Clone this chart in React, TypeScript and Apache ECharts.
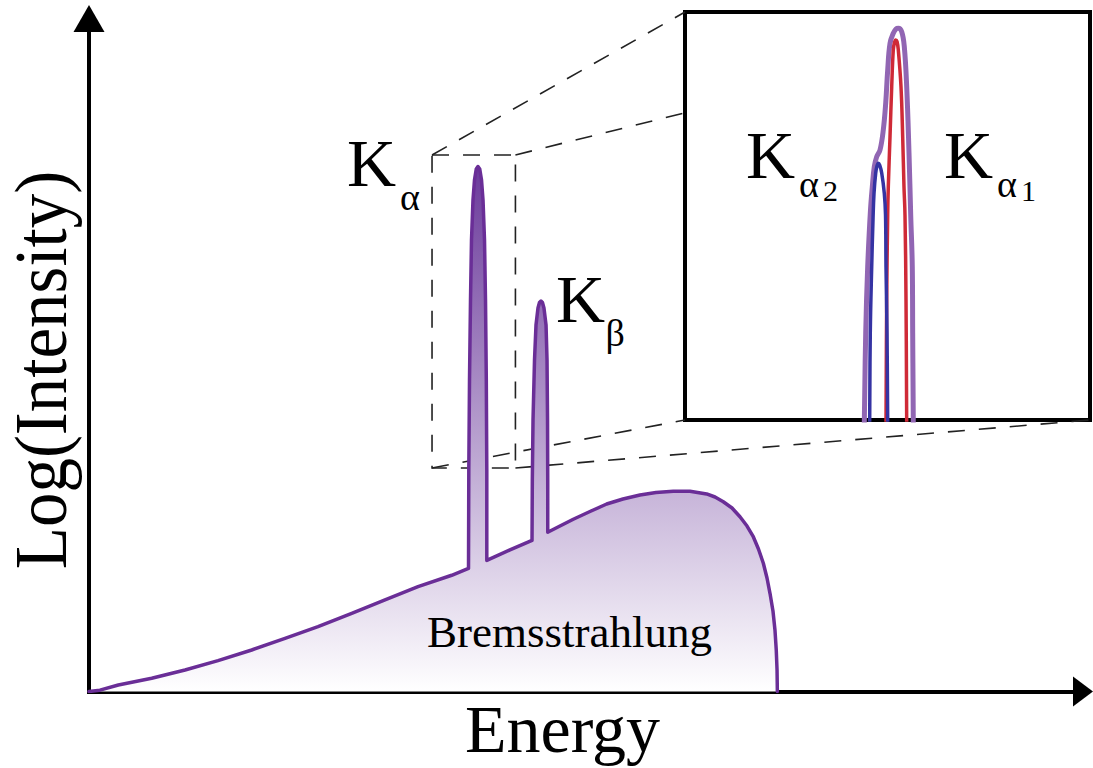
import React, { useEffect, useRef } from "react";
import * as echarts from "echarts";

// Main spectrum as [energy, log(intensity)] pairs, arbitrary units (0–100 on both axes).
const BREMS_RISE: number[][] = [
  [0, 0], [1.1, 0.2], [2.95, 0.97], [6.31, 1.96], [9.66, 3.19], [12.98, 4.58],
  [16.37, 6.17], [19.72, 7.9], [23.04, 9.63], [26.43, 11.62], [29.78, 13.6],
  [33.1, 15.57], [36.49, 17.27], [38.18, 18.28],
];
const K_ALPHA: number[][] = [
  [38.21, 32.91], [38.28, 46.29], [38.38, 58.17], [38.48, 67.09], [38.63, 73.03],
  [38.78, 76.0], [38.96, 77.64], [39.13, 78.01], [39.31, 77.64], [39.49, 76.0],
  [39.64, 73.03], [39.79, 67.09], [39.89, 58.17], [39.97, 46.29], [40.02, 32.91],
  [40.02, 19.47],
];
const BREMS_MID: number[][] = [[42.35, 21.03], [44.57, 22.44]];
const K_BETA: number[][] = [
  [44.6, 31.43], [44.67, 40.34], [44.82, 49.26], [44.97, 54.46], [45.17, 56.98],
  [45.32, 57.8], [45.47, 58.02], [45.62, 57.8], [45.77, 56.98], [45.98, 54.46],
  [46.08, 49.26], [46.13, 40.34], [46.15, 31.43], [46.15, 23.66],
];
const BREMS_TAIL: number[][] = [
  [47.38, 24.59], [48.72, 25.59], [50.4, 26.75], [52.08, 27.86], [53.72, 28.6],
  [55.43, 29.2], [57.04, 29.57], [58.78, 29.76], [60.46, 29.76], [62.14, 29.35],
  [62.98, 28.9], [63.81, 28.2], [64.69, 27.27], [65.49, 25.97], [66.2, 24.59],
  [66.83, 23.0], [67.35, 21.17], [67.84, 19.05], [68.21, 16.86], [68.51, 14.59],
  [68.81, 11.96], [69.01, 9.14], [69.14, 6.17], [69.22, 3.19], [69.25, 0],
];

// Zoomed Kα doublet, inset units (0–100 on both axes).
const KA_ENVELOPE: number[][] = [
  [44.27, -1], [44.62, 21.32], [45.11, 37.57], [45.8, 51.47], [46.25, 57.18],
  [46.74, 62.08], [47.33, 64.53], [48.15, 66.18], [48.96, 71.08], [49.56, 77.7],
  [50.05, 85.78], [50.62, 92.33], [51.43, 94.78], [52.1, 95.83], [52.67, 96.0],
  [53.51, 95.17], [54.15, 91.49], [54.74, 81.69], [55.31, 65.44], [55.73, 50.25],
  [56.12, 37.57], [56.22, 21.32], [56.37, -1],
];
const KA1_LINE: number[][] = [
  [49.63, -1], [49.8, 29.41], [50.05, 50.25], [50.2, 57.18], [50.62, 69.44],
  [51.04, 81.69], [51.43, 90.69], [51.73, 92.52], [52.02, 93.14], [52.35, 92.77],
  [52.67, 90.69], [53.33, 81.69], [53.75, 69.44], [54.07, 57.18], [54.32, 50.25],
  [54.57, 29.41], [54.74, -1],
];
const KA2_LINE: number[][] = [
  [45.6, -1], [45.75, 21.32], [46.1, 37.57], [46.42, 49.02], [46.67, 55.56],
  [47.09, 60.54], [47.41, 62.25], [47.73, 62.92], [48.07, 62.5], [48.57, 60.54],
  [49.21, 55.56], [49.51, 50.25], [49.63, 37.57], [49.88, 21.32], [50.05, -1],
];

// Region of the main spectrum that the inset magnifies.
const ZOOM_E = [34.51, 42.9];
const ZOOM_L = [33.21, 79.72];

const SERIF = "Liberation Serif";

export default function App() {
  const ref = useRef<HTMLDivElement>(null);

  useEffect(() => {
    const chart = echarts.init(ref.current!, null, { renderer: "svg" });
    const spectrum = [...BREMS_RISE, ...K_ALPHA, ...BREMS_MID, ...K_BETA, ...BREMS_TAIL];

    const hiddenAxis = { type: "value", min: 0, max: 100, show: false };
    const mainAxisLine = (size: number[]) => ({
      show: true, onZero: false, symbol: ["none", "triangle"], symbolSize: size,
      lineStyle: { color: "#000000", width: 4, cap: "square" },
    });

    chart.setOption({
      animation: false,
      grid: [
        { left: 89, top: 18.5, right: 10, bottom: 76.5, show: false },
        {
          left: 685, top: 12, width: 405, height: 408, show: true,
          backgroundColor: "#ffffff", borderColor: "#000000", borderWidth: 4,
        },
      ],
      xAxis: [
        {
          type: "value", gridIndex: 0, min: 0, max: 100, axisLine: mainAxisLine([30, 20]),
          axisTick: { show: false }, axisLabel: { show: false }, splitLine: { show: false },
        },
        { ...hiddenAxis, gridIndex: 1 },
      ],
      yAxis: [
        {
          type: "value", gridIndex: 0, min: 0, max: 100, axisLine: mainAxisLine([31, 27]),
          axisTick: { show: false }, axisLabel: { show: false }, splitLine: { show: false },
        },
        { ...hiddenAxis, gridIndex: 1 },
      ],
      series: [
        {
          type: "line", xAxisIndex: 0, yAxisIndex: 0, data: spectrum,
          symbol: "none", smooth: false, z: 3,
          lineStyle: { color: "#6a2e97", width: 3.5, cap: "round", join: "round" },
          areaStyle: {
            opacity: 1,
            color: new echarts.graphic.LinearGradient(0, 0, 0, 1, [
              { offset: 0, color: "#6b3a9b" },
              { offset: 1, color: "#ffffff" },
            ]),
          },
        },
        {
          type: "line", xAxisIndex: 1, yAxisIndex: 1, data: KA_ENVELOPE,
          symbol: "none", smooth: 0.4, clip: true,
          lineStyle: { color: "#9166b3", width: 5, cap: "round", join: "round" },
        },
        {
          type: "line", xAxisIndex: 1, yAxisIndex: 1, data: KA1_LINE,
          symbol: "none", smooth: 0.4, clip: true,
          lineStyle: { color: "#cf2a37", width: 3.5, cap: "round", join: "round" },
        },
        {
          type: "line", xAxisIndex: 1, yAxisIndex: 1, data: KA2_LINE,
          symbol: "none", smooth: 0.4, clip: true,
          lineStyle: { color: "#3533a3", width: 3.5, cap: "round", join: "round" },
        },
      ],
    });

    const px = (g: number, v: number[]) =>
      chart.convertToPixel({ gridIndex: g } as any, v) as number[];

    // Corners of the magnified box on the main axes and of the inset frame.
    const a = px(0, [ZOOM_E[0], ZOOM_L[1]]);
    const b = px(0, [ZOOM_E[1], ZOOM_L[1]]);
    const c = px(0, [ZOOM_E[0], ZOOM_L[0]]);
    const d = px(0, [ZOOM_E[1], ZOOM_L[0]]);
    const A = px(1, [0, 100]);
    const B = px(1, [100, 100]);
    const C = px(1, [0, 0]);
    const D = px(1, [100, 0]);
    // The top-right projection disappears behind the inset frame.
    const t = (A[0] - b[0]) / (B[0] - b[0]);
    const bEnd = [A[0], b[1] + t * (B[1] - b[1])];

    const dash = { stroke: "#222222", lineWidth: 1.6, lineDash: [17, 14], fill: null };
    const seg = (p: number[], q: number[]) => ({
      type: "line", z: 1, silent: true,
      shape: { x1: p[0], y1: p[1], x2: q[0], y2: q[1] },
      style: dash,
    });
    const text = (s: string, x: number, y: number, size: number, extra: any = {}) => {
      const { align, ...rest } = extra;
      return {
        type: "text", z: 10, silent: true, x, y, ...rest,
        style: {
          text: s, x: 0, y: 0, fill: "#000000",
          font: `${size}px "${SERIF}", serif`,
          fontSize: size, fontFamily: SERIF,
          textAlign: align || "left", align: align || "left",
          textVerticalAlign: "middle", verticalAlign: "middle",
        },
      };
    };

    chart.setOption({
      graphic: [
        {
          type: "rect", z: 1, silent: true,
          shape: { x: a[0], y: a[1], width: b[0] - a[0], height: c[1] - a[1] },
          style: dash,
        },
        seg(a, A),
        seg(b, bEnd),
        seg(c, C),
        seg(d, D),
        text("K", 347, 163, 68),
        text("α", 400, 197.2, 38),
        text("K", 556, 299, 68),
        text("β", 605.5, 333.2, 38),
        text("K", 746, 155, 68),
        text("α", 799, 184.2, 38),
        text("2", 823, 190.9, 30),
        text("K", 944, 155, 68),
        text("α", 997, 184.2, 38),
        text("1", 1021, 190.9, 30),
        text("Bremsstrahlung", 427, 631.8, 45),
        text("Energy", 562.5, 729, 68, { align: "center" }),
        text("Log(Intensity)", 41.5, 370, 69, { align: "center", rotation: Math.PI / 2, scaleY: 1.08 }),
      ],
    });

    return () => chart.dispose();
  }, []);

  return (
    <div
      ref={ref}
      style={{ position: "absolute", left: 0, top: 0, width: 1093, height: 768 }}
    />
  );
}
